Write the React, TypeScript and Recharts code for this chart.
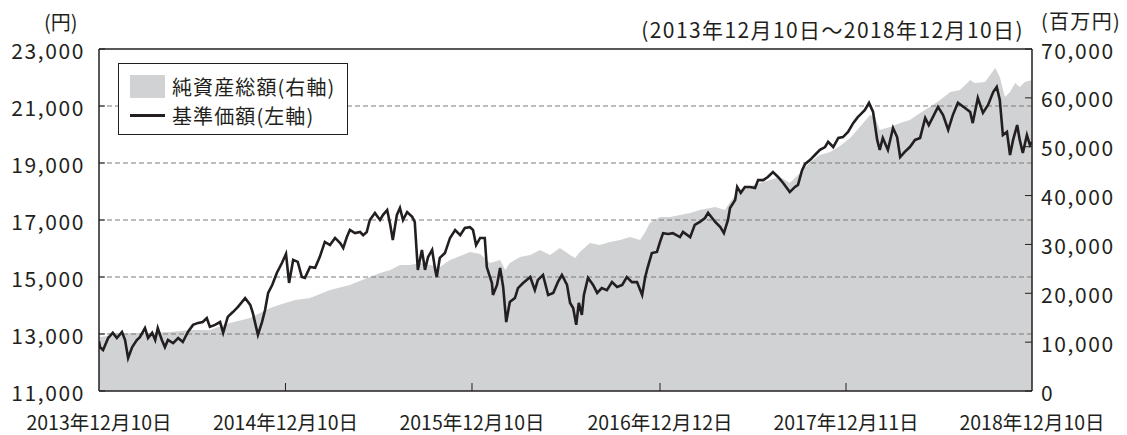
import React from 'react';
import {
  ComposedChart,
  Area,
  Line,
  XAxis,
  YAxis,
  Legend,
  ReferenceLine,
} from 'recharts';

// days counted from 2013-12-10
const xTickDays = [0, 365, 730, 1098, 1462, 1826];
const xTickLabels = [
  '2013年12月10日',
  '2014年12月10日',
  '2015年12月10日',
  '2016年12月12日',
  '2017年12月11日',
  '2018年12月10日',
];
const leftTicks = [11000, 13000, 15000, 17000, 19000, 21000, 23000];
const rightTicks = [0, 10000, 20000, 30000, 40000, 50000, 60000, 70000];
const gridValues = [13000, 15000, 17000, 19000, 21000];

// 基準価額 (円)
const navDays = [
  0, 2, 8, 18, 27, 35, 45, 51, 57, 65, 74, 80, 90, 96, 104, 110, 115, 123, 129, 135,
  145, 155, 164, 174, 184, 194, 203, 211, 217, 227, 237, 243, 252, 262, 272, 286, 296, 301, 311, 319,
  325, 331, 339, 348, 358, 366, 372, 380, 389, 397, 403, 413, 423, 432, 442, 452, 462, 472, 478, 485,
  491, 501, 511, 517, 524, 530, 540, 550, 556, 564, 570, 575, 583, 589, 595, 603, 613, 618, 624, 632,
  638, 644, 652, 658, 661, 667, 677, 687, 697, 707, 716, 726, 732, 738, 746, 755, 759, 769, 771, 779,
  785, 791, 797, 804, 814, 820, 830, 844, 853, 859, 869, 879, 889, 898, 906, 916, 922, 928, 934, 939,
  945, 949, 957, 967, 975, 984, 994, 1004, 1014, 1024, 1033, 1043, 1053, 1063, 1069, 1074, 1082, 1092, 1098, 1104,
  1114, 1123, 1137, 1143, 1157, 1166, 1176, 1186, 1192, 1200, 1206, 1216, 1223, 1231, 1235, 1245, 1249, 1256, 1264, 1274,
  1284, 1290, 1300, 1309, 1319, 1329, 1339, 1352, 1362, 1368, 1376, 1382, 1392, 1401, 1411, 1421, 1427, 1437, 1447, 1456,
  1466, 1476, 1485, 1489, 1499, 1507, 1515, 1523, 1528, 1534, 1544, 1554, 1562, 1568, 1577, 1587, 1597, 1607, 1617, 1624,
  1632, 1642, 1652, 1662, 1671, 1681, 1695, 1705, 1710, 1720, 1730, 1740, 1750, 1757, 1763, 1769, 1777, 1783, 1789, 1797,
  1802, 1808, 1816, 1822, 1826,
];
const navValues = [
  12750, 12540, 12440, 12860, 13040, 12860, 13070, 12790, 12160, 12540, 12790, 12890, 13210, 12860, 13040, 12790, 13210, 12790, 12540, 12790,
  12680, 12860, 12720, 13070, 13320, 13390, 13420, 13560, 13250, 13320, 13420, 13040, 13600, 13770, 13950, 14260, 14020, 13740, 12970, 13420,
  13840, 14440, 14720, 15140, 15490, 15810, 14790, 15600, 15530, 15000, 14970, 15350, 15320, 15700, 16230, 16120, 16370, 16190, 16020, 16400,
  16650, 16540, 16580, 16470, 16580, 17000, 17250, 17000, 17180, 17350, 16830, 16300, 17180, 17420, 17000, 17280, 17110, 16930, 15250, 15950,
  15250, 15700, 15950, 15250, 15000, 15670, 15840, 16370, 16650, 16470, 16720, 16750, 16650, 16120, 16370, 16370, 15350, 14790, 14370, 14720,
  15320, 14650, 13420, 14120, 14260, 14610, 14790, 15000, 14540, 14900, 15070, 14370, 14440, 14820, 15070, 14720, 14090, 13910, 13320, 14090,
  13670, 14370, 14970, 14720, 14440, 14610, 14540, 14820, 14650, 14720, 15000, 14820, 14820, 14370, 15000, 15350, 15840, 15880, 16230, 16540,
  16510, 16540, 16400, 16580, 16400, 16830, 16930, 17070, 17250, 17070, 16930, 16750, 16540, 17000, 17420, 17700, 18160, 17950, 18160, 18160,
  18120, 18400, 18400, 18510, 18680, 18510, 18300, 17980, 18160, 18230, 18750, 18970, 19110, 19280, 19460, 19560, 19740, 19560, 19880, 19910,
  20090, 20400, 20610, 20680, 20860, 21110, 20790, 19810, 19460, 19880, 19460, 20230, 19910, 19210, 19390, 19560, 19810, 19880, 20580, 20330,
  20610, 20970, 20680, 20160, 20680, 21110, 20930, 20790, 20400, 21280, 20760, 21040, 21490, 21670, 21210, 19980, 20090, 19280, 19810, 20330,
  19810, 19350, 19980, 19630, 19740,
];

// 純資産総額 (百万円)
const assetDays = [
  0, 2, 31, 61, 100, 139, 178, 217, 256, 296, 335, 364, 384, 413, 452, 491, 530, 550, 570, 589,
  609, 628, 648, 667, 687, 707, 726, 746, 765, 785, 795, 804, 824, 844, 863, 883, 902, 922, 932, 941,
  961, 980, 1000, 1020, 1039, 1059, 1069, 1078, 1098, 1118, 1137, 1157, 1176, 1206, 1225, 1235, 1254, 1274, 1294, 1313,
  1333, 1352, 1372, 1392, 1411, 1431, 1450, 1470, 1489, 1509, 1519, 1528, 1548, 1568, 1587, 1607, 1626, 1646, 1666, 1685,
  1705, 1714, 1734, 1754, 1763, 1773, 1783, 1793, 1802, 1812, 1826,
];
const assetValues = [
  11050, 11050, 11460, 11870, 11870, 12080, 12490, 12490, 13920, 14940, 16990, 18010, 18630, 19040, 20670, 21700, 23330, 24150, 24770, 25790,
  25790, 26200, 25790, 25380, 26810, 27630, 28450, 28040, 26200, 26810, 24770, 26200, 27430, 27840, 28860, 27840, 29270, 27840, 27220, 28450,
  30290, 29880, 30500, 30910, 31520, 30910, 32540, 34390, 35610, 35610, 36020, 36430, 37050, 37660, 37050, 38690, 41140, 41960, 42570, 43190,
  43800, 42570, 44620, 46870, 48300, 48920, 50150, 51780, 54040, 56490, 56080, 53420, 54040, 54850, 55470, 56900, 58130, 59560, 61200, 61610,
  63650, 63040, 63250, 66110, 64270, 60180, 61200, 63040, 62220, 63250, 63650,
];

const navData = navDays.map((day, i) => ({ day, nav: navValues[i] }));
const assetData = assetDays.map((day, i) => ({ day, assets: assetValues[i] }));

const FONT = '"Noto Sans CJK JP", "Noto Sans", sans-serif';
const INK = '#231f20';
const AREA_FILL = '#d1d2d4';

function LeftTick({ x, y, payload }: any) {
  return (
    <g>
      <line x1={x} x2={x + 6} y1={y} y2={y} stroke={INK} strokeWidth={1} />
      <text
        x={x - 14}
        y={y + 2}
        dy="0.36em"
        textAnchor="end"
        fill={INK}
        fontSize={21}
        letterSpacing={1.6}
        fontFamily={FONT}
      >
        {Number(payload.value).toLocaleString('en-US')}
      </text>
    </g>
  );
}

function RightTick({ x, y, payload }: any) {
  return (
    <g>
      <line x1={x} x2={x - 7} y1={y} y2={y} stroke={INK} strokeWidth={1} />
      <text
        x={x + 9}
        y={y + 2}
        dy="0.36em"
        textAnchor="start"
        fill={INK}
        fontSize={21}
        letterSpacing={1.6}
        fontFamily={FONT}
      >
        {Number(payload.value).toLocaleString('en-US')}
      </text>
    </g>
  );
}

function BottomTick({ x, y, payload, index }: any) {
  const label = xTickLabels[xTickDays.indexOf(payload.value)] ?? '';
  const inner = index > 0 && index < xTickDays.length - 1;
  return (
    <g>
      {inner && <line x1={x} x2={x} y1={y} y2={y - 8} stroke={INK} strokeWidth={1} />}
      <text x={x} y={y + 32} dy="0.36em" textAnchor="middle" fill={INK} fontSize={19.5} fontFamily={FONT}>
        {label}
      </text>
    </g>
  );
}

function ChartLegend() {
  return (
    <div
      style={{
        position: 'relative',
        width: 230,
        height: 72,
        boxSizing: 'border-box',
        border: `1px solid ${INK}`,
        background: '#fff',
        fontFamily: FONT,
        fontSize: 20,
        letterSpacing: 1.1,
        color: INK,
      }}
    >
      <div style={{ position: 'absolute', left: 11, top: 11, width: 35, height: 23, background: AREA_FILL }} />
      <div style={{ position: 'absolute', left: 53, top: 9, lineHeight: '28px', whiteSpace: 'nowrap' }}>
        純資産総額(右軸)
      </div>
      <div style={{ position: 'absolute', left: 11, top: 50, width: 35, height: 3, background: INK }} />
      <div style={{ position: 'absolute', left: 53, top: 38, lineHeight: '28px', whiteSpace: 'nowrap' }}>
        基準価額(左軸)
      </div>
    </div>
  );
}

export default function App() {
  return (
    <div style={{ position: 'relative', width: 1111, height: 427, fontFamily: FONT, color: INK }}>
      <div style={{ position: 'absolute', left: 36, top: 3, fontSize: 20, lineHeight: '22px' }}>(円)</div>
      <div
        style={{
          position: 'absolute',
          right: 95,
          top: 10,
          fontSize: 21,
          letterSpacing: 1.4,
          lineHeight: '22px',
          whiteSpace: 'nowrap',
        }}
      >
        (2013年12月10日～2018年12月10日)
      </div>
      <div
        style={{
          position: 'absolute',
          left: 1033,
          top: 3,
          fontSize: 20,
          letterSpacing: 1.3,
          lineHeight: '20px',
          whiteSpace: 'nowrap',
        }}
      >
        (百万円)
      </div>
      <ComposedChart width={1111} height={427} margin={{ top: 41, right: 0, bottom: 8, left: 0 }}>
        <XAxis
          type="number"
          dataKey="day"
          domain={[0, 1826]}
          ticks={xTickDays}
          allowDataOverflow
          height={36}
          tickSize={0}
          tickMargin={0}
          tickLine={false}
          axisLine={{ stroke: INK, strokeWidth: 1.5 }}
          tick={<BottomTick />}
          interval={0}
        />
        <YAxis
          yAxisId="left"
          orientation="left"
          domain={[11000, 23000]}
          ticks={leftTicks}
          allowDataOverflow
          width={91}
          tickSize={0}
          tickMargin={0}
          tickLine={false}
          axisLine={{ stroke: INK, strokeWidth: 1.5 }}
          tick={<LeftTick />}
          interval={0}
        />
        <YAxis
          yAxisId="right"
          orientation="right"
          domain={[0, 70000]}
          ticks={rightTicks}
          allowDataOverflow
          width={87}
          tickSize={0}
          tickMargin={0}
          tickLine={false}
          axisLine={{ stroke: INK, strokeWidth: 1.5 }}
          tick={<RightTick />}
          interval={0}
        />
        <Area
          yAxisId="right"
          data={assetData}
          dataKey="assets"
          type="linear"
          stroke="none"
          fill={AREA_FILL}
          fillOpacity={1}
          isAnimationActive={false}
          name="純資産総額(右軸)"
        />
        {gridValues.map((v) => (
          <ReferenceLine
            key={v}
            yAxisId="left"
            y={v}
            stroke="#7a7a7a"
            strokeWidth={1}
            strokeDasharray="5 3"
          />
        ))}
        <ReferenceLine yAxisId="left" y={23000} stroke={INK} strokeWidth={1.5} />
        <Line
          yAxisId="left"
          data={navData}
          dataKey="nav"
          type="linear"
          stroke={INK}
          strokeWidth={2.6}
          dot={false}
          isAnimationActive={false}
          name="基準価額(左軸)"
        />
        <Legend
          layout="horizontal"
          verticalAlign="middle"
          align="center"
          content={<ChartLegend />}
          wrapperStyle={{ left: 110, top: 55, width: 230, height: 72 }}
        />
      </ComposedChart>
    </div>
  );
}
